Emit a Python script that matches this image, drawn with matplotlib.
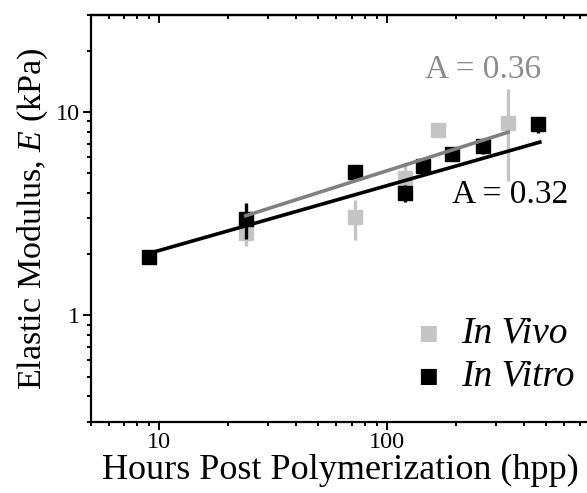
import matplotlib
matplotlib.use("Agg")
import matplotlib.pyplot as plt
from matplotlib.ticker import LogLocator, NullFormatter, FixedLocator, FixedFormatter

plt.rcParams['font.family'] = ['Liberation Serif', 'DejaVu Serif']
plt.rcParams['mathtext.fontset'] = 'custom'
plt.rcParams['mathtext.it'] = 'Liberation Serif:italic'
plt.rcParams['mathtext.rm'] = 'Liberation Serif'

# In vitro data (hours post polymerization, modulus kPa, error)
vitro_t = [9, 24, 72, 120, 144, 192, 264, 460]
vitro_E = [1.93, 2.98, 5.05, 4.0, 5.45, 6.25, 6.8, 8.7]
vitro_err = [0.12, 0.6, 0.35, 0.4, 0.35, 0.45, 0.55, 0.8]

# In vivo data
vivo_t = [24, 72, 120, 168, 340]
vivo_E = [2.55, 3.03, 4.75, 8.2, 8.8]
vivo_err = [0.35, 0.67, 0.9, 0.45, 4.2]

# Power-law fit line endpoints
fit_vivo_t = [24, 340]
fit_vivo_E = [3.09, 7.96]
fit_vitro_t = [9, 468]
fit_vitro_E = [2.016, 7.11]

xtick_vals = [10, 100]
xtick_labels = ['10', '100']
ytick_vals = [1, 10]
ytick_labels = ['1', '10']

W, H = 587, 493
fig = plt.figure(figsize=(W / 100, H / 100), dpi=100)
left = 90.5 / W
bottom = (H - 421.7) / H
top = (H - 15) / H
right_px = 615.0
ax = fig.add_axes([left, bottom, (right_px - 90.5) / W, top - bottom])

vivo_color = '#c4c4c4'
vivo_fit_color = '#808080'

ax.errorbar(vivo_t, vivo_E, yerr=vivo_err, fmt='s', color=vivo_color,
            ms=10, elinewidth=2.4, capsize=0, zorder=2)
ax.errorbar(vitro_t, vitro_E, yerr=vitro_err, fmt='s', color='black',
            ms=10, elinewidth=2.4, capsize=0, zorder=3)
ax.plot(fit_vivo_t, fit_vivo_E, color=vivo_fit_color, lw=2.6, zorder=4)
ax.plot(fit_vitro_t, fit_vitro_E, color='black', lw=2.6, zorder=4)

ax.set_xscale('log')
ax.set_yscale('log')
ax.set_xlim(5, 1000)
ax.set_ylim(0.3, 30)

ax.xaxis.set_major_locator(FixedLocator(xtick_vals))
ax.xaxis.set_major_formatter(FixedFormatter(xtick_labels))
ax.yaxis.set_major_locator(FixedLocator(ytick_vals))
ax.yaxis.set_major_formatter(FixedFormatter(ytick_labels))
ax.xaxis.set_minor_locator(LogLocator(base=10, subs=range(2, 10), numticks=20))
ax.yaxis.set_minor_locator(LogLocator(base=10, subs=range(2, 10), numticks=20))
ax.xaxis.set_minor_formatter(NullFormatter())
ax.yaxis.set_minor_formatter(NullFormatter())

for s in ax.spines.values():
    s.set_linewidth(1.6)

ax.tick_params(which='both', direction='out', top=False, right=False, width=1.4)
ax.tick_params(which='major', length=5.5, labelsize=17.5, pad=2)
ax.tick_params(which='minor', length=3)

# inward ticks on top
secx = ax.secondary_xaxis('top')
secx.xaxis.set_major_locator(FixedLocator(xtick_vals))
secx.xaxis.set_minor_locator(LogLocator(base=10, subs=range(2, 10), numticks=20))
secx.xaxis.set_major_formatter(NullFormatter())
secx.xaxis.set_minor_formatter(NullFormatter())
secx.tick_params(which='both', direction='in', width=1.4)
secx.tick_params(which='major', length=5.5)
secx.tick_params(which='minor', length=3)
secx.spines['top'].set_linewidth(1.6)

fig.text(340 / W, 1 - 470 / H, 'Hours Post Polymerization (hpp)', fontsize=26,
         ha='center', va='center')
ax.set_ylabel('Elastic Modulus, $E$ (kPa)', fontsize=24.5, labelpad=4)

fig.text(483 / W, 1 - 70 / H, 'A = 0.36', fontsize=24, color='#8c8c8c', ha='center', va='center')
fig.text(510 / W, 1 - 195 / H, 'A = 0.32', fontsize=24, color='black', ha='center', va='center')

# legend
fig.text(428 / W, 1 - 333 / H, '\u25A0', fontsize=15, color=vivo_color, ha='center', va='center',
         family=['DejaVu Sans'])
fig.text(428 / W, 1 - 376 / H, '\u25A0', fontsize=15, color='black', ha='center', va='center',
         family=['DejaVu Sans'])
fig.text(461 / W, 1 - 333 / H, 'In Vivo', fontsize=27, style='italic', ha='left', va='center')
fig.text(461 / W, 1 - 376 / H, 'In Vitro', fontsize=27, style='italic', ha='left', va='center')

fig.savefig('out.png', dpi=100)
